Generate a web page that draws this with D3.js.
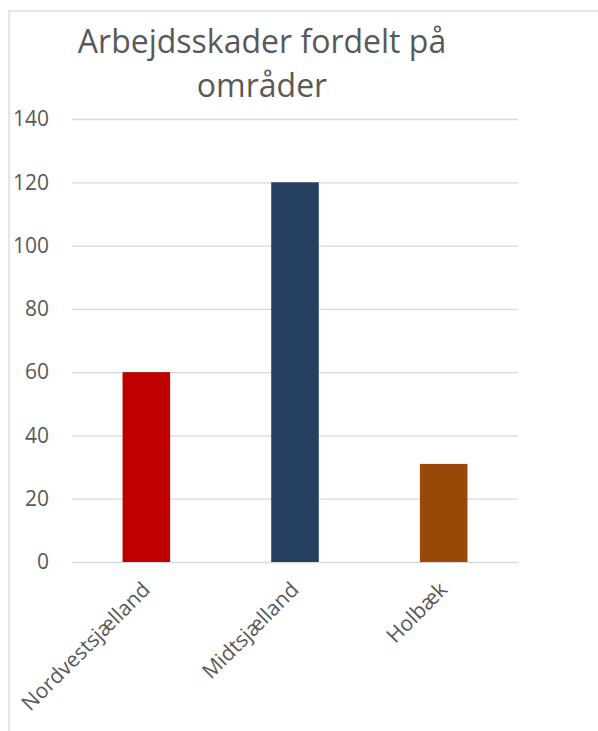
<!DOCTYPE html>
<html>
<head>
<meta charset="utf-8">
<script src="https://d3js.org/d3.v7.min.js"></script>
<style>
    body { margin: 0; background: #fff; }
    svg { display: block; font-family: "Open Sans", sans-serif; }
</style>
</head>
<body>
<svg id="chart" width="598" height="731"></svg>
<script>
// Chart data
const categories = ['Nordvestsjælland', 'Midtsjælland', 'Holbæk'];
const values = [60, 120, 31];
const barColors = ['#C00000', '#264061', '#984807'];
const yTicks = [0, 20, 40, 60, 80, 100, 120, 140];
const titleLines = ['Arbejdsskader fordelt på', 'områder'];

const svg = d3.select('#chart');
const textColor = '#595959';
const gridColor = '#d9d9d9';

// Chart border (runs past the right and bottom of the window)
svg.append('rect')
    .attr('x', 9)
    .attr('y', 11)
    .attr('width', 700)
    .attr('height', 800)
    .attr('fill', 'none')
    .attr('stroke', gridColor)
    .attr('stroke-width', 1.3);

// Plot area
const plot = { left: 72, right: 518, top: 119, bottom: 562 };

const x = d3.scaleBand()
    .domain(categories)
    .range([plot.left, plot.right])
    .paddingInner(0.68)
    .paddingOuter(0.34);

const y = d3.scaleLinear()
    .domain([0, 140])
    .range([plot.bottom, plot.top]);

// Gridlines and y labels
const yAxis = d3.axisLeft(y)
    .tickValues(yTicks)
    .tickSize(-(plot.right - plot.left))
    .tickPadding(23);

const yg = svg.append('g')
    .attr('transform', `translate(${plot.left},0)`)
    .call(yAxis);
yg.select('.domain').remove();
yg.selectAll('.tick line')
    .attr('stroke', gridColor)
    .attr('stroke-width', 1.3);
yg.selectAll('.tick text')
    .attr('fill', textColor)
    .attr('font-size', '21px')
    .attr('font-family', '"Open Sans", sans-serif');

// Bars
svg.append('g')
    .selectAll('rect')
    .data(categories)
    .enter()
    .append('rect')
    .attr('x', d => x(d))
    .attr('y', (d, i) => y(values[i]))
    .attr('width', x.bandwidth())
    .attr('height', (d, i) => y(0) - y(values[i]))
    .attr('fill', (d, i) => barColors[i]);

// Category labels, rotated
const xAxis = d3.axisBottom(x).tickSize(0).tickPadding(0);
const xg = svg.append('g')
    .attr('transform', `translate(0,${plot.bottom})`)
    .call(xAxis);
xg.select('.domain').remove();
xg.selectAll('.tick text')
    .attr('fill', textColor)
    .attr('font-size', '21px')
    .attr('font-family', '"Open Sans", sans-serif')
    .attr('text-anchor', 'end')
    .attr('dy', 0)
    .attr('transform', 'translate(5,29) rotate(-45)');

// Title
svg.append('text')
    .attr('x', 262)
    .attr('y', 53)
    .attr('text-anchor', 'middle')
    .attr('fill', textColor)
    .attr('font-size', '32px')
    .selectAll('tspan')
    .data(titleLines)
    .enter()
    .append('tspan')
    .attr('x', 262)
    .attr('dy', (d, i) => i === 0 ? 0 : 44)
    .text(d => d);
</script>
</body>
</html>
